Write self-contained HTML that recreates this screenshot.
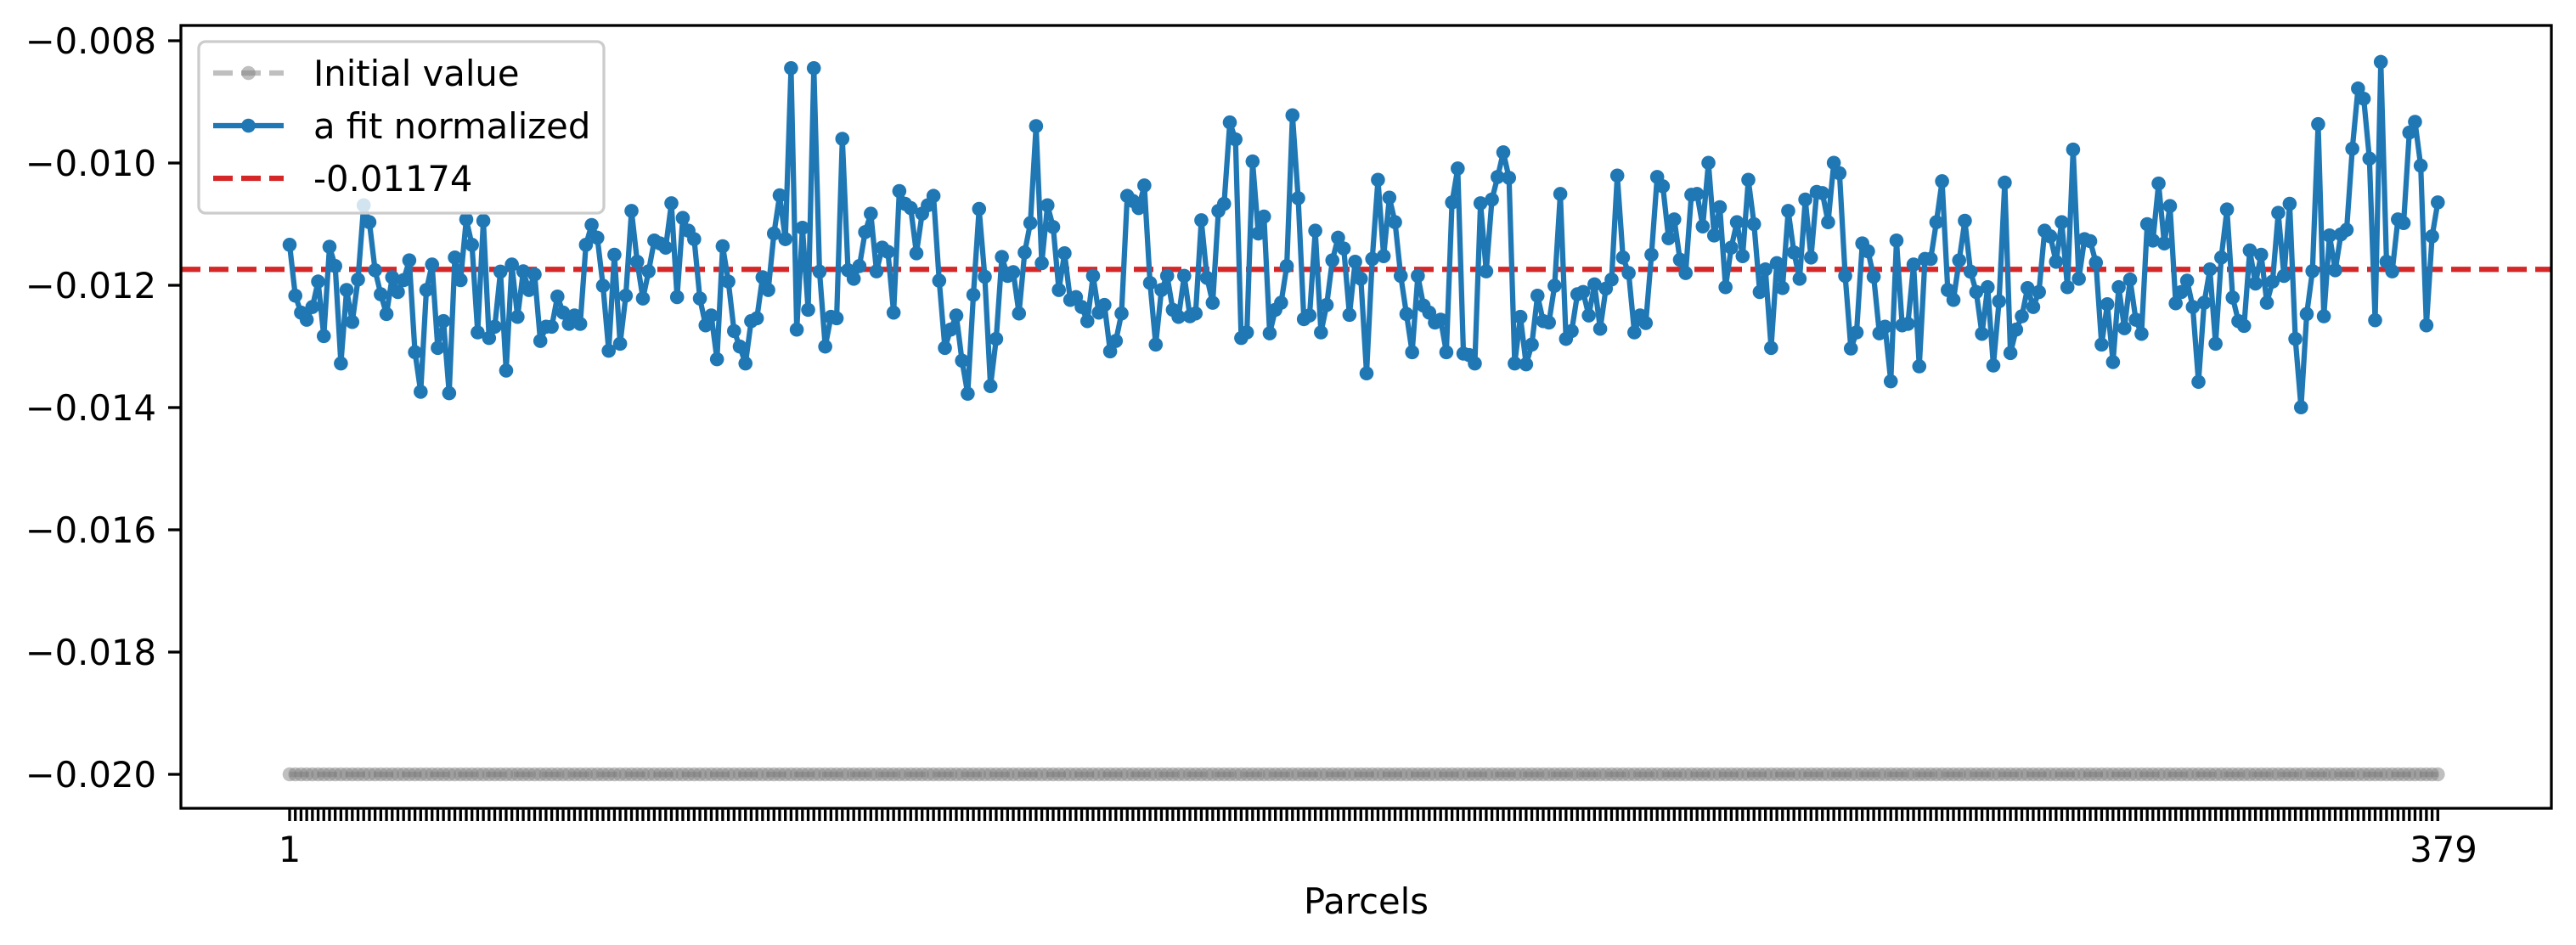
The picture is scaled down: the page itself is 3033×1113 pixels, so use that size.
<!DOCTYPE html>
<html><head><meta charset="utf-8"><style>
html,body{margin:0;padding:0;background:#fff;}
svg{display:block;font-family:"DejaVu Sans","Liberation Sans",sans-serif;}
</style></head><body>
<svg id="chart" width="3033" height="1113" viewBox="0 0 3033 1113" xmlns="http://www.w3.org/2000/svg">
<rect x="0" y="0" width="3033" height="1113" fill="#fff"/>
<g id="plot"></g>
</svg>
<script>
const fitValues = [
-0.011338,-0.012170,-0.012447,-0.012563,-0.012355,-0.011939,-0.012831,-0.011370,-0.011685,-0.013279,
-0.012077,-0.012600,-0.011906,-0.010691,-0.010968,-0.011754,-0.012147,-0.012470,-0.011869,-0.012110,
-0.011916,-0.011592,-0.013095,-0.013742,-0.012077,-0.011661,-0.013025,-0.012586,-0.013765,-0.011546,
-0.011916,-0.010922,-0.011338,-0.012771,-0.010945,-0.012863,-0.012678,-0.011777,-0.013395,-0.011661,
-0.012517,-0.011772,-0.012077,-0.011823,-0.012910,-0.012678,-0.012678,-0.012184,-0.012447,-0.012632,
-0.012494,-0.012632,-0.011338,-0.011014,-0.011222,-0.012008,-0.013071,-0.011500,-0.012956,-0.012170,
-0.010783,-0.011615,-0.012216,-0.011772,-0.011268,-0.011315,-0.011384,-0.010658,-0.012193,-0.010899,
-0.011107,-0.011245,-0.012216,-0.012655,-0.012494,-0.013210,-0.011361,-0.011939,-0.012748,-0.013002,
-0.013279,-0.012586,-0.012540,-0.011869,-0.012077,-0.011153,-0.010529,-0.011245,-0.008448,-0.012725,
-0.011060,-0.012401,-0.008448,-0.011777,-0.013002,-0.012517,-0.012540,-0.009604,-0.011754,-0.011893,
-0.011685,-0.011130,-0.010829,-0.011772,-0.011384,-0.011453,-0.012447,-0.010459,-0.010667,-0.010737,
-0.011476,-0.010829,-0.010691,-0.010538,-0.011925,-0.013025,-0.012725,-0.012494,-0.013233,-0.013774,
-0.012156,-0.010751,-0.011860,-0.013649,-0.012877,-0.011537,-0.011846,-0.011786,-0.012461,-0.011463,
-0.010982,-0.009396,-0.011638,-0.010691,-0.011047,-0.012077,-0.011476,-0.012239,-0.012193,-0.012355,
-0.012586,-0.011846,-0.012447,-0.012322,-0.013081,-0.012910,-0.012461,-0.010538,-0.010621,-0.010737,
-0.010367,-0.011962,-0.012970,-0.012077,-0.011846,-0.012401,-0.012517,-0.011846,-0.012507,-0.012461,
-0.010936,-0.011879,-0.012286,-0.010783,-0.010667,-0.009336,-0.009613,-0.012863,-0.012771,-0.009974,
-0.011153,-0.010876,-0.012785,-0.012401,-0.012286,-0.011685,-0.009220,-0.010575,-0.012554,-0.012494,
-0.011107,-0.012771,-0.012322,-0.011592,-0.011222,-0.011398,-0.012484,-0.011615,-0.011893,-0.013441,
-0.011569,-0.010275,-0.011523,-0.010566,-0.010968,-0.011846,-0.012470,-0.013095,-0.011846,-0.012332,
-0.012447,-0.012609,-0.012563,-0.013095,-0.010644,-0.010090,-0.013118,-0.013141,-0.013279,-0.010658,
-0.011772,-0.010598,-0.010228,-0.009826,-0.010242,-0.013279,-0.012517,-0.013293,-0.012970,-0.012170,
-0.012586,-0.012609,-0.012008,-0.010506,-0.012877,-0.012748,-0.012147,-0.012110,-0.012494,-0.011985,
-0.012711,-0.012054,-0.011906,-0.010205,-0.011546,-0.011800,-0.012771,-0.012494,-0.012618,-0.011500,
-0.010228,-0.010381,-0.011231,-0.010922,-0.011583,-0.011800,-0.010520,-0.010506,-0.011037,-0.009997,
-0.011185,-0.010723,-0.012031,-0.011384,-0.010968,-0.011523,-0.010275,-0.011000,-0.012110,-0.011740,
-0.013025,-0.011638,-0.012045,-0.010783,-0.011463,-0.011893,-0.010598,-0.011546,-0.010473,-0.010492,
-0.010968,-0.009997,-0.010168,-0.011846,-0.013034,-0.012771,-0.011315,-0.011444,-0.011860,-0.012785,
-0.012678,-0.013571,-0.011268,-0.012655,-0.012632,-0.011661,-0.013326,-0.011569,-0.011569,-0.010968,
-0.010298,-0.012077,-0.012239,-0.011592,-0.010945,-0.011777,-0.012110,-0.012794,-0.012031,-0.013312,
-0.012262,-0.010321,-0.013108,-0.012725,-0.012507,-0.012045,-0.012355,-0.012110,-0.011107,-0.011199,
-0.011615,-0.010968,-0.012031,-0.009780,-0.011893,-0.011245,-0.011278,-0.011629,-0.012970,-0.012309,
-0.013256,-0.012031,-0.012702,-0.011906,-0.012563,-0.012794,-0.011000,-0.011268,-0.010335,-0.011315,
-0.010704,-0.012295,-0.012110,-0.011925,-0.012355,-0.013580,-0.012286,-0.011740,-0.012956,-0.011546,
-0.010760,-0.012202,-0.012586,-0.012665,-0.011430,-0.011971,-0.011500,-0.012286,-0.011939,-0.010815,
-0.011846,-0.010667,-0.012877,-0.013996,-0.012470,-0.011768,-0.009364,-0.012507,-0.011185,-0.011754,
-0.011167,-0.011093,-0.009766,-0.008781,-0.008948,-0.009928,-0.012572,-0.008347,-0.011615,-0.011772,
-0.010922,-0.010982,-0.009502,-0.009327,-0.010043,-0.012655,-0.011199,-0.010644
];
const initialValue = -0.020;
const initialValues = fitValues.map(() => initialValue);
const meanValue = -0.01174;
const meanLabel = "-0.01174";
const yTickValues = [-0.008,-0.010,-0.012,-0.014,-0.016,-0.018,-0.020];
const yTickLabels = ["\u22120.008","\u22120.010","\u22120.012","\u22120.014","\u22120.016","\u22120.018","\u22120.020"];
const xLabelParcels = [1, 379];

const NS = "http://www.w3.org/2000/svg";
const L = 213, R = 3004, T = 30, B = 952;
const N = fitValues.length;
function xs(i){ return 341 + (i - 1) * (2877 - 341) / 378; }
function ys(v){ return 48 + (-0.008 - v) * 72000; }
const g = document.getElementById('plot');
function mk(tag, attrs, parent){
  const e = document.createElementNS(NS, tag);
  for (const k in attrs) e.setAttribute(k, attrs[k]);
  (parent || g).appendChild(e);
  return e;
}

// clip
const defs = mk('defs', {});
const cp = mk('clipPath', {id:'clip'}, defs);
mk('rect', {x:L, y:T, width:R-L, height:B-T}, cp);
const data = mk('g', {'clip-path':'url(#clip)'});



// initial value series
let dI = '';
initialValues.forEach((v,i)=>{ dI += (i?'L':'M') + xs(i+1).toFixed(2) + ',' + ys(v).toFixed(2); });
const il = mk('path', {d:dI, fill:'none', stroke:'#808080', 'stroke-opacity':'0.5', 'stroke-width':'6.25', 'stroke-dasharray':'23,10'}, data);


initialValues.forEach((v,i)=>{
  const c = mk('circle', {cx:xs(i+1), cy:ys(v), r:8.3, fill:'#808080', 'fill-opacity':'0.5'}, data);
  
  
});

// mean line
const ml = mk('line', {x1:L, x2:R, y1:ys(meanValue), y2:ys(meanValue), stroke:'#d62728', 'stroke-width':'6.25', 'stroke-dasharray':'23,10'}, data);



// fit series
let dF = '';
fitValues.forEach((v,i)=>{ dF += (i?'L':'M') + xs(i+1).toFixed(2) + ',' + ys(v).toFixed(2); });
const fl = mk('path', {d:dF, fill:'none', stroke:'#1f77b4', 'stroke-width':'6.25', 'stroke-linejoin':'round'}, data);


fitValues.forEach((v,i)=>{
  const c = mk('circle', {cx:xs(i+1), cy:ys(v), r:8.3, fill:'#1f77b4'}, data);
  
  
});

// x ticks
let dT = '';
for (let i = 1; i <= N; i++) dT += 'M' + xs(i).toFixed(2) + ',' + B + 'V' + (B + 15);
const xt = mk('path', {d:dT, stroke:'#000', 'stroke-width':'3.3', fill:'none'});


xLabelParcels.forEach(p=>{
  const t = mk('text', {x:xs(p), y:1015, 'font-size':'41.7', 'text-anchor':'middle', fill:'#000'});
  
  
  t.textContent = String(p);
});
const xtitle = mk('text', {x:(L+R)/2, y:1076, 'font-size':'41.7', 'text-anchor':'middle', fill:'#000'});


xtitle.textContent = 'Parcels';

// y ticks
yTickValues.forEach((v,i)=>{
  const y = ys(v);
  const tk = mk('line', {x1:L-15, x2:L, y1:y, y2:y, stroke:'#000', 'stroke-width':'3.3'});
  
  
  const t = mk('text', {x:184, y:y+15, 'font-size':'41.7', 'text-anchor':'end', fill:'#000'});
  
  
  t.textContent = yTickLabels[i];
});

// frame
const fr = mk('rect', {x:L, y:T, width:R-L, height:B-T, fill:'none', stroke:'#000', 'stroke-width':'3.3'});



// legend
const lg = mk('g', {});


mk('rect', {x:234, y:49, width:477, height:202, rx:8, fill:'#fff', 'fill-opacity':'0.8', stroke:'#cccccc', 'stroke-width':'3.3'}, lg);
const rows = [
  {y:86, label:'Initial value', kind:'initial'},
  {y:148, label:'a fit normalized', kind:'fit'},
  {y:210, label:meanLabel, kind:'mean'}
];
rows.forEach(r=>{
  const e = mk('g', {}, lg);
  
  
  if (r.kind === 'initial'){
    mk('line', {x1:251, x2:334, y1:r.y, y2:r.y, stroke:'#808080', 'stroke-opacity':'0.5', 'stroke-width':'6.25', 'stroke-dasharray':'23,10'}, e);
    mk('circle', {cx:292.5, cy:r.y, r:8.3, fill:'#808080', 'fill-opacity':'0.5'}, e);
  } else if (r.kind === 'fit'){
    mk('line', {x1:251, x2:334, y1:r.y, y2:r.y, stroke:'#1f77b4', 'stroke-width':'6.25'}, e);
    mk('circle', {cx:292.5, cy:r.y, r:8.3, fill:'#1f77b4'}, e);
  } else {
    mk('line', {x1:251, x2:334, y1:r.y, y2:r.y, stroke:'#d62728', 'stroke-width':'6.25', 'stroke-dasharray':'23,10'}, e);
  }
  const t = mk('text', {x:369, y:r.y+15, 'font-size':'41.7', fill:'#000'}, e);
  t.textContent = r.label;
});
</script>
</body></html>
